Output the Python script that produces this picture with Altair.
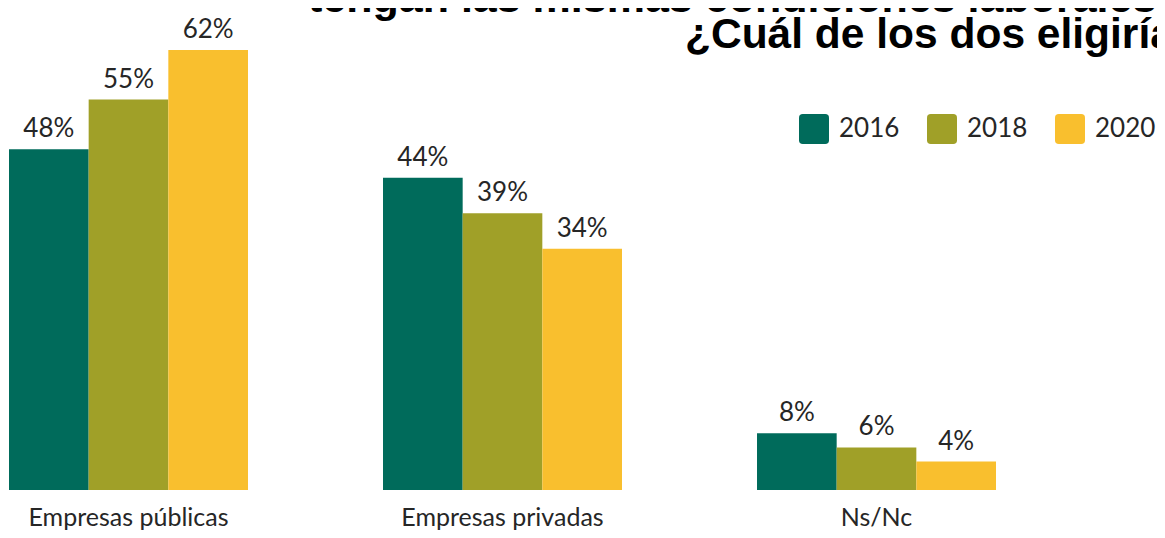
import altair as alt
import pandas as pd

categories = ["Empresas públicas", "Empresas privadas", "Ns/Nc"]
years = ["2016", "2018", "2020"]
values_2016 = [48, 44, 8]
values_2018 = [55, 39, 6]
values_2020 = [62, 34, 4]
bar_colors = ["#006B5B", "#A0A028", "#F9BF2E"]
title_line1 = "tengan las mismas condiciones laborales"
title_line2 = "¿Cuál de los dos eligiría?"

rows = []
for cat, a, b, c in zip(categories, values_2016, values_2018, values_2020):
    for yr, v in zip(years, (a, b, c)):
        rows.append({"categoria": cat, "anio": yr, "valor": v, "etiqueta": f"{v}%"})
df = pd.DataFrame(rows)

FONT = "Lato"
TXT = "#262626"

x = alt.X(
    "categoria:N",
    sort=categories,
    scale=alt.Scale(paddingInner=0.361, paddingOuter=0),
    axis=alt.Axis(
        title=None, labelAngle=0, ticks=False, domain=False,
        labelPadding=35, labelBaseline="alphabetic", labelLimit=0,
        labelFont=FONT, labelFontSize=25, labelColor=TXT,
    ),
)
xo = alt.XOffset("anio:N", sort=years, scale=alt.Scale(paddingInner=0, paddingOuter=0))
y = alt.Y("valor:Q", scale=alt.Scale(domain=[0, 67.9], nice=False, zero=True), axis=None)

rounded = ("M -0.75,-1 L 0.75,-1 Q 1,-1 1,-0.75 L 1,0.75 Q 1,1 0.75,1 "
           "L -0.75,1 Q -1,1 -1,0.75 L -1,-0.75 Q -1,-1 -0.75,-1 Z")

bars = alt.Chart(df).mark_bar().encode(
    x=x, xOffset=xo, y=y,
    color=alt.Color(
        "anio:N",
        scale=alt.Scale(domain=years, range=bar_colors),
        legend=alt.Legend(
            title=None, orient="none", legendX=790, legendY=106,
            direction="horizontal", symbolType=rounded, symbolSize=900,
            symbolStrokeWidth=0, symbolOpacity=1,
            labelFont=FONT, labelFontSize=26, labelColor=TXT,
            labelOffset=10, columnPadding=27, padding=0,
        ),
    ),
)

labels = alt.Chart(df).mark_text(
    baseline="alphabetic", dy=-12, font=FONT, fontSize=26, color=TXT
).encode(x=x, xOffset=xo, y=y, text="etiqueta:N")

t1 = alt.Chart(pd.DataFrame({"t": [title_line1]})).mark_text(
    align="left", baseline="alphabetic", font="Liberation Sans",
    fontWeight="bold", fontSize=43, color="#000000",
).encode(x=alt.value(299), y=alt.value(4), text="t:N")

t2 = alt.Chart(pd.DataFrame({"t": [title_line2]})).mark_text(
    align="left", baseline="alphabetic", font="Liberation Sans",
    fontWeight="bold", fontSize=42.5, color="#000000",
).encode(x=alt.value(676), y=alt.value(40), text="t:N")

chart = alt.layer(bars, labels, t1, t2).properties(
    width=987, height=482,
    autosize=alt.AutoSizeParams(type="none"),
    padding={"left": 1, "top": 0, "right": 161, "bottom": 40},
).configure_view(stroke=None)

chart.save("out.html", embed_options={"renderer": "svg", "actions": False})
